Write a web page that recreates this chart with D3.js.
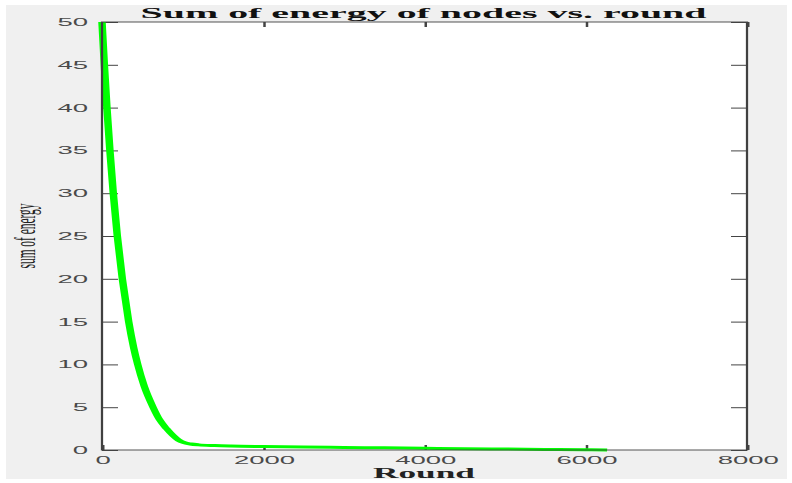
<!DOCTYPE html>
<html><head><meta charset="utf-8">
<script src="https://cdn.jsdelivr.net/npm/d3@7/dist/d3.min.js"></script>
<style>body{margin:0;background:#fff}svg{display:block}</style>
</head><body>
<svg id="c" width="792" height="483"></svg>
<script>
const rounds = [0, 29, 61, 98, 140, 190, 252, 331, 392, 443, 522, 633, 710, 800, 880, 950, 1020, 1100, 1200, 1400, 1600, 2000, 2500, 3000, 3500, 4000, 4500, 5000, 5500, 6000, 6265];
const energy = [50, 45, 40, 35, 30, 25, 20, 15, 12, 10, 7.5, 5, 3.6, 2.5, 1.7, 1.15, 0.85, 0.7, 0.6, 0.52, 0.47, 0.41, 0.35, 0.3, 0.25, 0.2, 0.15, 0.11, 0.07, 0.03, 0];
const xTicks = [0, 2000, 4000, 6000, 8000];
const yTicks = [0, 5, 10, 15, 20, 25, 30, 35, 40, 45, 50];
const titleText = "Sum of energy of nodes vs. round";
const xLabel = "Round";
const yLabel = "sum of energy";

const SX = 2.5; // horizontal stretch of the whole figure
const svg = d3.select("#c");
svg.append("rect").attr("x", 6).attr("y", 5).attr("width", 781).attr("height", 474).attr("fill", "#f0f0f0");

const g = svg.append("g").attr("transform", `scale(${SX},1)`);
const L = 102 / SX, R = 747 / SX, T = 22, B = 450;
const x = d3.scaleLinear().domain([0, 8000]).range([L, R]);
const y = d3.scaleLinear().domain([0, 50]).range([B, T]);

g.append("rect").attr("x", L).attr("y", T).attr("width", R - L).attr("height", B - T).attr("fill", "#fff");

const font = "'Liberation Sans', Arial, sans-serif";
function style(sel) {
  sel.select(".domain").remove();
  sel.selectAll(".tick line").attr("stroke", "#444").attr("stroke-width", 1);
  sel.selectAll(".tick text").attr("fill", "#4a4a4a").attr("font-family", font).attr("font-size", 11);
}
g.append("g").attr("transform", `translate(${L},0)`)
  .call(d3.axisLeft(y).tickValues(yTicks).tickSizeInner(-6.4).tickSizeOuter(0).tickPadding(5.6).tickFormat(d3.format("d"))).call(style);
g.append("g").attr("transform", `translate(${R},0)`)
  .call(d3.axisRight(y).tickValues(yTicks).tickSizeInner(-6.4).tickSizeOuter(0).tickFormat("")).call(style);
g.append("g").attr("transform", `translate(0,${B})`)
  .call(d3.axisBottom(x).tickValues(xTicks).tickSizeInner(-5).tickSizeOuter(0).tickPadding(6).tickFormat(d3.format("d"))).call(style);
g.append("g").attr("transform", `translate(0,${T})`)
  .call(d3.axisTop(x).tickValues(xTicks).tickSizeInner(-5).tickSizeOuter(0).tickFormat("")).call(style);

const pts = rounds.map((r, i) => [r, energy[i]]);
const line = d3.line().x(d => x(d[0])).y(d => y(d[1])).curve(d3.curveMonotoneX);
g.append("path").attr("d", line(pts)).attr("fill", "none").attr("stroke", "#00ff00")
  .attr("stroke-width", 3).attr("stroke-linejoin", "round");

g.append("rect").attr("x", L).attr("y", T).attr("width", R - L).attr("height", B - T)
  .attr("fill", "none").attr("stroke", "#404040").attr("stroke-width", 0.9);

g.append("text").attr("x", 423.5 / SX).attr("y", 18).attr("text-anchor", "middle")
  .attr("font-family", "'Liberation Serif', 'Times New Roman', serif").attr("font-weight", "bold")
  .attr("font-size", 15).attr("fill", "#111").attr("textLength", 566 / SX).attr("lengthAdjust", "spacingAndGlyphs")
  .text(titleText);
g.append("text").attr("x", 424 / SX).attr("y", 478).attr("text-anchor", "middle")
  .attr("font-family", "'Liberation Serif', 'Times New Roman', serif").attr("font-weight", "bold")
  .attr("font-size", 15).attr("fill", "#222").attr("textLength", 102 / SX).attr("lengthAdjust", "spacingAndGlyphs")
  .text(xLabel);
g.append("text").attr("transform", `translate(${35 / SX},236) rotate(-90)`).attr("text-anchor", "middle")
  .attr("font-family", "'Liberation Serif', 'Times New Roman', serif")
  .attr("font-size", 12).attr("fill", "#222").attr("textLength", 65).attr("lengthAdjust", "spacingAndGlyphs").text(yLabel);
</script>
</body></html>
